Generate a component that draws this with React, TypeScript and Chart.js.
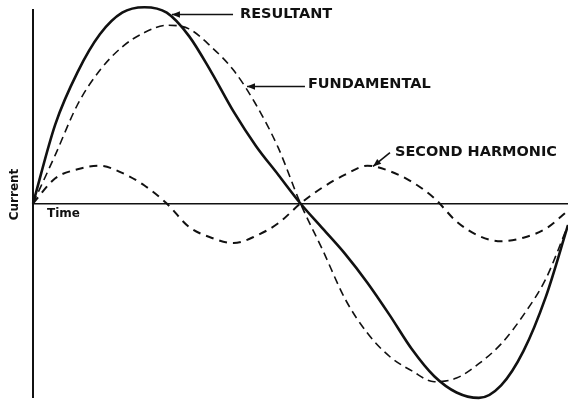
import React, { useEffect, useRef } from "react";
import { Chart, registerables } from "chart.js";

Chart.register(...registerables);

// Time in electrical degrees (0–360 across the drawing)
const timeDeg = [0, 15, 30, 45, 60, 75, 90, 105, 120, 135, 150, 165, 180, 195, 210, 225, 240, 255, 270, 285, 300, 315, 330, 345, 360];

// Current values (arbitrary units)
const resultant = [0, 4.4, 7.3, 9.4, 10.6, 10.9, 10.6, 9.3, 7.3, 5.1, 3.2, 1.6, 0, -1.4, -2.8, -4.4, -6.2, -8.1, -9.6, -10.5, -10.8, -10.1, -8.2, -5.2, -1.2];
const fundamental = [0, 2.7, 5.5, 7.4, 8.7, 9.5, 9.9, 9.7, 8.7, 7.4, 5.5, 3.1, 0, -2.6, -5.3, -7.2, -8.5, -9.3, -9.9, -9.7, -8.9, -7.8, -6.2, -4.2, -1.2];
const secondHarmonic = [0, 1.4, 1.9, 2.1, 1.7, 1.0, 0, -1.3, -1.9, -2.2, -1.8, -1.1, 0, 0.9, 1.6, 2.1, 1.8, 1.2, 0.3, -1.0, -1.8, -2.1, -1.9, -1.4, -0.4];

const seriesNames = ["RESULTANT", "FUNDAMENTAL", "SECOND HARMONIC"];
const yAxisTitle = "Current";
const xAxisTitle = "Time";

// Callout arrows: tip on the curve, tail where the label begins (data coordinates)
const calloutTip = [
  [93.5, 10.5],
  [144, 6.5],
  [228.8, 2.06],
];
const calloutTail = [
  [134.6, 10.5],
  [183, 6.5],
  [240.2, 2.83],
];
const calloutText = [
  [139.3, 10.5],
  [185, 6.6],
  [243.6, 2.83],
];

const INK = "#111";

const annotationPlugin = {
  id: "annotations",
  afterDraw(chart: any) {
    const { ctx, chartArea } = chart;
    const xs = chart.scales.x;
    const ys = chart.scales.y;
    ctx.save();
    ctx.fillStyle = INK;
    ctx.strokeStyle = INK;

    seriesNames.forEach((name, i) => {
      const tx = xs.getPixelForValue(calloutTip[i][0]);
      const ty = ys.getPixelForValue(calloutTip[i][1]);
      const ex = xs.getPixelForValue(calloutTail[i][0]);
      const ey = ys.getPixelForValue(calloutTail[i][1]);
      ctx.lineWidth = 1.6;
      ctx.beginPath();
      ctx.moveTo(ex, ey);
      ctx.lineTo(tx, ty);
      ctx.stroke();
      const ang = Math.atan2(ty - ey, tx - ex);
      const len = 8;
      const half = 3.2;
      const bx = tx - Math.cos(ang) * len;
      const by = ty - Math.sin(ang) * len;
      ctx.beginPath();
      ctx.moveTo(tx, ty);
      ctx.lineTo(bx + Math.sin(ang) * half, by - Math.cos(ang) * half);
      ctx.lineTo(bx - Math.sin(ang) * half, by + Math.cos(ang) * half);
      ctx.closePath();
      ctx.fill();

      ctx.font = "bold 14.5px 'DejaVu Sans', sans-serif";
      ctx.textAlign = "left";
      ctx.textBaseline = "middle";
      ctx.fillText(name, xs.getPixelForValue(calloutText[i][0]), ys.getPixelForValue(calloutText[i][1]));
    });

    ctx.font = "bold 12px 'DejaVu Sans', sans-serif";
    ctx.textAlign = "left";
    ctx.textBaseline = "middle";
    ctx.fillText(xAxisTitle, xs.getPixelForValue(0) + 14, ys.getPixelForValue(0) + 10);

    ctx.translate(chartArea.left - 18, ys.getPixelForValue(0) - 9);
    ctx.rotate(-Math.PI / 2);
    ctx.textAlign = "center";
    ctx.fillText(yAxisTitle, 0, 0);
    ctx.restore();
  },
};

export default function App() {
  const ref = useRef<HTMLCanvasElement | null>(null);

  useEffect(() => {
    if (!ref.current) return;
    const toPts = (ys: number[]) => timeDeg.map((x, i) => ({ x, y: ys[i] }));
    const common = {
      borderColor: INK,
      pointRadius: 0,
      cubicInterpolationMode: "monotone" as const,
      clip: false as any,
    };
    const chart = new Chart(ref.current, {
      type: "line",
      data: {
        datasets: [
          { ...common, label: seriesNames[0], data: toPts(resultant), borderWidth: 2.6 },
          { ...common, label: seriesNames[1], data: toPts(fundamental), borderWidth: 1.6, borderDash: [8, 5] },
          { ...common, label: seriesNames[2], data: toPts(secondHarmonic), borderWidth: 2, borderDash: [8, 6] },
        ],
      },
      options: {
        animation: false,
        responsive: false,
        events: [],
        layout: { padding: { left: 33, top: 10, right: 0, bottom: 3 } },
        plugins: { legend: { display: false }, tooltip: { enabled: false } },
        scales: {
          x: {
            type: "linear",
            min: 0,
            max: 360,
            position: { y: 0 } as any,
            grid: { display: false },
            ticks: { display: false },
            border: { display: true, color: INK, width: 1.6 },
          },
          y: {
            type: "linear",
            min: -10.75,
            max: 10.75,
            grid: { display: false },
            ticks: { display: false },
            border: { display: true, color: INK, width: 2 },
            afterFit: (s: any) => {
              s.width = 0;
            },
          },
        },
      },
      plugins: [annotationPlugin],
    });
    return () => chart.destroy();
  }, []);

  return (
    <div style={{ position: "fixed", left: 0, top: 0, width: 568, height: 400, background: "#fff" }}>
      <canvas ref={ref} width={568} height={400} style={{ display: "block" }} />
    </div>
  );
}
